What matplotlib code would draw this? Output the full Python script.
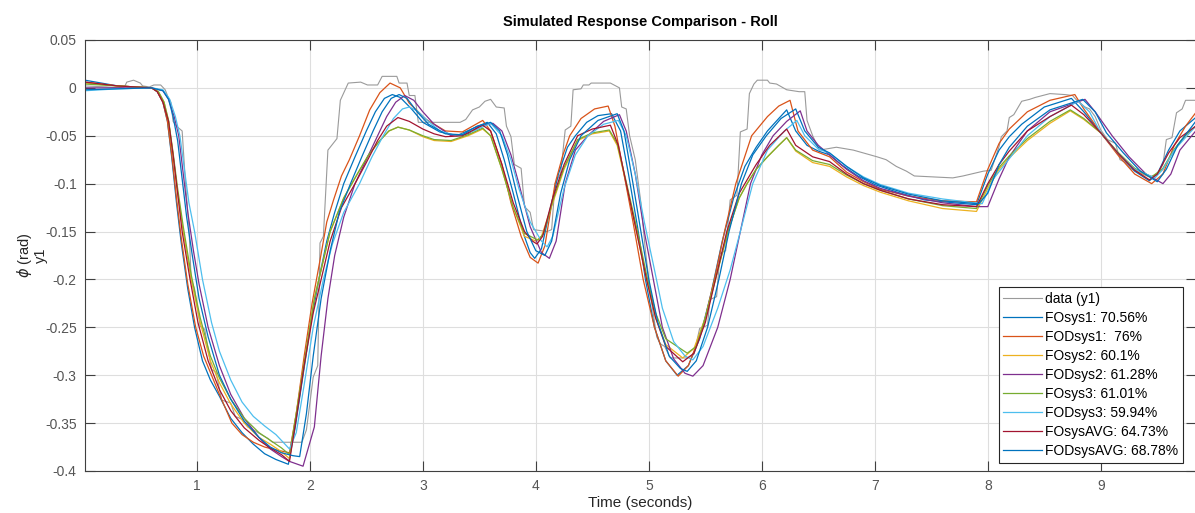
import matplotlib
matplotlib.use("Agg")
import matplotlib.pyplot as plt

# ---------------- data ----------------
data_t = [0.01, 0.2, 0.3, 0.36, 0.38, 0.44, 0.5, 0.52, 0.58, 0.62, 0.68, 0.72, 0.74, 0.77, 0.79, 0.82, 0.87,
          0.9, 0.93, 0.95, 0.98, 1.03, 1.07, 1.13, 1.17, 1.22, 1.3, 1.34, 1.4, 1.45, 1.5, 1.57, 1.63, 1.67,
          1.93, 1.97, 2.03, 2.07, 2.09, 2.12, 2.16, 2.2, 2.24, 2.27, 2.34, 2.45, 2.51, 2.6, 2.64, 2.77, 2.79,
          2.86, 2.88, 2.93, 2.96, 3.33, 3.38, 3.44, 3.5, 3.55, 3.6, 3.65, 3.72, 3.74, 3.78, 3.81, 3.87, 3.9,
          3.95, 3.98, 4.1, 4.14, 4.17, 4.22, 4.26, 4.31, 4.33, 4.4, 4.42, 4.47, 4.49, 4.66, 4.74, 4.76, 4.8,
          4.83, 4.88, 4.93, 4.97, 5.02, 5.07, 5.1, 5.14, 5.19, 5.34, 5.4, 5.45, 5.52, 5.54, 5.6, 5.63, 5.68,
          5.72, 5.78, 5.81, 5.87, 5.89, 5.93, 5.96, 6.05, 6.07, 6.13, 6.22, 6.33, 6.38, 6.40, 6.45, 6.51,
          6.56, 6.66, 6.81, 6.93, 7.02, 7.10, 7.19, 7.28, 7.35, 7.52, 7.69, 7.78, 7.96, 8.03, 8.1, 8.12,
          8.17, 8.19, 8.23, 8.30, 8.37, 8.42, 8.55, 8.68, 8.75, 8.78, 8.86, 8.9, 8.95, 9.0, 9.06, 9.13,
          9.17, 9.22, 9.26, 9.35, 9.43, 9.5, 9.55, 9.58, 9.63, 9.67, 9.72, 9.75, 9.85]
data_y = [0.002, 0.001, 0.0, 0.001, 0.006, 0.008, 0.005, 0.002, 0.001, 0.003, 0.003, -0.002, -0.008, -0.015,
          -0.035, -0.040, -0.045, -0.1, -0.145, -0.2, -0.21, -0.249, -0.252, -0.294, -0.297, -0.326, -0.329,
          -0.343, -0.346, -0.354, -0.357, -0.362, -0.366, -0.370, -0.370, -0.357, -0.302, -0.29, -0.162,
          -0.155, -0.065, -0.059, -0.053, -0.013, 0.005, 0.006, 0.003, 0.003, 0.012, 0.012, 0.005, 0.005,
          -0.008, -0.008, -0.036, -0.036, -0.033, -0.023, -0.020, -0.014, -0.012, -0.020, -0.021, -0.040,
          -0.051, -0.080, -0.084, -0.124, -0.130, -0.148, -0.150, -0.148, -0.100, -0.089, -0.044, -0.040,
          -0.002, -0.001, 0.003, 0.003, 0.005, 0.005, 0.000, -0.020, -0.022, -0.050, -0.075, -0.120, -0.170,
          -0.220, -0.260, -0.267, -0.270, -0.282, -0.282, -0.278, -0.251, -0.248, -0.221, -0.218, -0.173,
          -0.170, -0.117, -0.112, -0.046, -0.043, -0.006, 0.004, 0.008, 0.008, 0.005, 0.004, -0.002, -0.004,
          -0.004, -0.034, -0.050, -0.065, -0.064, -0.062, -0.065, -0.069, -0.072, -0.075, -0.082, -0.087,
          -0.092, -0.093, -0.094, -0.092, -0.087, -0.086, -0.061, -0.051, -0.045, -0.031, -0.028, -0.014,
          -0.012, -0.010, -0.006, -0.007, -0.008, -0.012, -0.020, -0.022, -0.030, -0.044, -0.054, -0.058,
          -0.075, -0.078, -0.084, -0.089, -0.093, -0.090, -0.080, -0.054, -0.052, -0.026, -0.022, -0.013,
          -0.013]

fosys1_t = [0.01, 0.3, 0.6, 0.65, 0.70, 0.74, 0.78, 0.82, 0.86, 0.92, 0.98, 1.05, 1.12, 1.2, 1.3, 1.4, 1.5,
            1.6, 1.7, 1.81, 1.87, 1.94, 2.01, 2.08, 2.15, 2.22, 2.3, 2.4, 2.5, 2.58, 2.66, 2.73, 2.8, 2.9,
            3.0, 3.15, 3.3, 3.45, 3.57, 3.65, 3.72, 3.8, 3.89, 3.95, 3.99, 4.05, 4.12, 4.2, 4.28, 4.35, 4.45,
            4.55, 4.67, 4.75, 4.82, 4.9, 4.97, 5.05, 5.15, 5.25, 5.35, 5.45, 5.55, 5.65, 5.75, 5.85, 5.95,
            6.05, 6.15, 6.22, 6.3, 6.4, 6.5, 6.6, 6.7, 6.85, 7.0, 7.2, 7.44, 7.7, 7.9, 8.0, 8.1, 8.19, 8.3,
            8.5, 8.74, 8.85, 9.0, 9.15, 9.3, 9.43, 9.5, 9.6, 9.7, 9.84]
fosys1_y = [0.008, 0.002, 0.000, -0.004, -0.015, -0.035, -0.075, -0.12, -0.16, -0.21, -0.25, -0.285, -0.305,
            -0.322, -0.345, -0.360, -0.372, -0.382, -0.388, -0.393, -0.355, -0.300, -0.245, -0.200, -0.160,
            -0.130, -0.100, -0.072, -0.045, -0.025, -0.011, -0.007, -0.010, -0.022, -0.036, -0.046, -0.050,
            -0.042, -0.036, -0.048, -0.075, -0.110, -0.152, -0.172, -0.178, -0.168, -0.130, -0.090, -0.062,
            -0.050, -0.036, -0.029, -0.027, -0.045, -0.090, -0.145, -0.200, -0.250, -0.285, -0.300, -0.290,
            -0.262, -0.215, -0.160, -0.115, -0.082, -0.062, -0.045, -0.032, -0.023, -0.045, -0.060, -0.066,
            -0.070, -0.080, -0.092, -0.101, -0.109, -0.117, -0.120, -0.122, -0.090, -0.065, -0.051, -0.038,
            -0.020, -0.011, -0.025, -0.047, -0.068, -0.087, -0.097, -0.090, -0.065, -0.045, -0.031]

fodsys1_t = [0.01, 0.3, 0.6, 0.65, 0.70, 0.74, 0.78, 0.82, 0.86, 0.92, 0.99, 1.06, 1.13, 1.2, 1.31, 1.4, 1.5,
             1.6, 1.7, 1.82, 1.88, 1.95, 2.02, 2.09, 2.15, 2.21, 2.28, 2.35, 2.44, 2.53, 2.62, 2.71, 2.8,
             2.88, 3.03, 3.2, 3.35, 3.53, 3.6, 3.7, 3.78, 3.87, 3.95, 4.02, 4.08, 4.17, 4.24, 4.3, 4.4, 4.52,
             4.64, 4.7, 4.78, 4.86, 4.95, 5.05, 5.15, 5.26, 5.35, 5.48, 5.58, 5.67, 5.77, 5.91, 6.05, 6.15,
             6.25, 6.32, 6.45, 6.6, 6.75, 6.9, 7.05, 7.3, 7.6, 7.9, 8.0, 8.1, 8.19, 8.35, 8.55, 8.77, 8.85,
             9.0, 9.15, 9.3, 9.45, 9.55, 9.65, 9.75, 9.84]
fodsys1_y = [0.006, 0.002, 0.000, -0.004, -0.015, -0.035, -0.072, -0.115, -0.155, -0.205, -0.250, -0.280,
             -0.300, -0.320, -0.350, -0.362, -0.370, -0.375, -0.378, -0.381, -0.340, -0.280, -0.225, -0.180,
             -0.140, -0.117, -0.092, -0.075, -0.050, -0.023, -0.005, 0.005, 0.000, -0.016, -0.033, -0.045,
             -0.046, -0.034, -0.045, -0.080, -0.120, -0.155, -0.177, -0.183, -0.165, -0.100, -0.070, -0.050,
             -0.032, -0.022, -0.019, -0.040, -0.090, -0.140, -0.200, -0.250, -0.285, -0.301, -0.290, -0.250,
             -0.200, -0.150, -0.100, -0.050, -0.030, -0.019, -0.013, -0.045, -0.065, -0.072, -0.088, -0.098,
             -0.106, -0.113, -0.118, -0.119, -0.085, -0.058, -0.043, -0.025, -0.013, -0.007, -0.022, -0.047,
             -0.070, -0.090, -0.100, -0.090, -0.060, -0.040, -0.026]

fosys2_t = [0.01, 0.3, 0.6, 0.66, 0.71, 0.75, 0.79, 0.83, 0.88, 0.95, 1.03, 1.12, 1.2, 1.3, 1.42, 1.55, 1.65,
            1.75, 1.82, 1.88, 1.96, 2.04, 2.1, 2.18, 2.3, 2.42, 2.52, 2.62, 2.7, 2.78, 2.88, 3.0, 3.1, 3.25,
            3.4, 3.53, 3.6, 3.7, 3.8, 3.9, 4.0, 4.05, 4.15, 4.25, 4.37, 4.5, 4.65, 4.72, 4.8, 4.9, 4.98, 5.06,
            5.15, 5.3, 5.4, 5.5, 5.6, 5.7, 5.8, 5.87, 5.95, 6.05, 6.15, 6.22, 6.3, 6.45, 6.6, 6.75, 6.9,
            7.05, 7.3, 7.6, 7.9, 8.0, 8.1, 8.19, 8.35, 8.55, 8.73, 8.85, 9.0, 9.15, 9.3, 9.45, 9.55, 9.65,
            9.75, 9.84]
fosys2_y = [0.005, 0.002, 0.000, -0.004, -0.015, -0.035, -0.070, -0.110, -0.150, -0.200, -0.245, -0.285,
            -0.308, -0.330, -0.350, -0.365, -0.372, -0.380, -0.387, -0.340, -0.280, -0.220, -0.190, -0.150,
            -0.115, -0.090, -0.070, -0.055, -0.045, -0.041, -0.044, -0.051, -0.055, -0.056, -0.050, -0.043,
            -0.050, -0.085, -0.125, -0.155, -0.160, -0.155, -0.120, -0.085, -0.055, -0.048, -0.045, -0.060,
            -0.100, -0.155, -0.200, -0.240, -0.268, -0.282, -0.272, -0.240, -0.195, -0.150, -0.115, -0.100,
            -0.085, -0.072, -0.060, -0.052, -0.066, -0.078, -0.082, -0.093, -0.102, -0.109, -0.118, -0.126,
            -0.129, -0.105, -0.085, -0.073, -0.055, -0.037, -0.024, -0.033, -0.047, -0.068, -0.085, -0.094,
            -0.085, -0.065, -0.050, -0.040]

fodsys2_t = [0.01, 0.3, 0.6, 0.7, 0.75, 0.8, 0.84, 0.88, 0.92, 0.97, 1.02, 1.1, 1.2, 1.3, 1.42, 1.55, 1.65,
             1.75, 1.82, 1.94, 2.04, 2.1, 2.16, 2.22, 2.3, 2.4, 2.5, 2.6, 2.68, 2.76, 2.84, 2.92, 3.0, 3.1,
             3.25, 3.4, 3.5, 3.62, 3.7, 3.78, 3.85, 3.95, 4.05, 4.12, 4.18, 4.26, 4.35, 4.46, 4.6, 4.74, 4.8,
             4.88, 4.96, 5.04, 5.12, 5.22, 5.32, 5.39, 5.48, 5.61, 5.72, 5.81, 5.9, 6.0, 6.1, 6.22, 6.34,
             6.4, 6.5, 6.6, 6.75, 6.9, 7.05, 7.3, 7.6, 7.9, 8.0, 8.1, 8.19, 8.35, 8.55, 8.86, 8.95, 9.1,
             9.25, 9.4, 9.55, 9.62, 9.7, 9.84]
fodsys2_y = [0.000, 0.000, 0.000, -0.003, -0.012, -0.030, -0.050, -0.090, -0.130, -0.170, -0.205, -0.250,
             -0.290, -0.320, -0.345, -0.365, -0.377, -0.385, -0.390, -0.395, -0.354, -0.280, -0.220, -0.175,
             -0.135, -0.100, -0.075, -0.050, -0.030, -0.015, -0.008, -0.013, -0.025, -0.038, -0.050, -0.048,
             -0.040, -0.037, -0.045, -0.070, -0.100, -0.145, -0.172, -0.178, -0.160, -0.100, -0.065, -0.050,
             -0.035, -0.028, -0.045, -0.090, -0.150, -0.200, -0.250, -0.283, -0.298, -0.301, -0.290, -0.250,
             -0.200, -0.150, -0.100, -0.070, -0.050, -0.035, -0.024, -0.045, -0.060, -0.070, -0.085, -0.097,
             -0.105, -0.113, -0.120, -0.124, -0.124, -0.095, -0.072, -0.045, -0.025, -0.012, -0.025, -0.050,
             -0.072, -0.090, -0.100, -0.090, -0.065, -0.045]

fosys3_t = [0.01, 0.3, 0.6, 0.66, 0.71, 0.75, 0.79, 0.83, 0.88, 0.95, 1.03, 1.12, 1.2, 1.3, 1.42, 1.55, 1.65,
            1.75, 1.82, 1.88, 1.96, 2.04, 2.1, 2.18, 2.3, 2.42, 2.52, 2.62, 2.7, 2.78, 2.88, 3.0, 3.1, 3.25,
            3.4, 3.53, 3.6, 3.7, 3.8, 3.9, 4.02, 4.07, 4.15, 4.25, 4.37, 4.5, 4.65, 4.72, 4.8, 4.9, 4.98,
            5.06, 5.15, 5.34, 5.42, 5.5, 5.6, 5.7, 5.8, 5.87, 5.95, 6.05, 6.15, 6.22, 6.3, 6.45, 6.6, 6.75,
            6.9, 7.05, 7.3, 7.6, 7.9, 8.0, 8.1, 8.19, 8.35, 8.55, 8.73, 8.85, 9.0, 9.15, 9.3, 9.45, 9.55,
            9.65, 9.75, 9.84]
fosys3_y = [0.004, 0.002, 0.000, -0.004, -0.015, -0.034, -0.068, -0.105, -0.145, -0.195, -0.240, -0.280,
            -0.303, -0.325, -0.345, -0.360, -0.368, -0.376, -0.383, -0.340, -0.280, -0.220, -0.190, -0.150,
            -0.115, -0.090, -0.070, -0.055, -0.045, -0.041, -0.044, -0.050, -0.054, -0.055, -0.049, -0.042,
            -0.050, -0.085, -0.125, -0.152, -0.159, -0.152, -0.118, -0.083, -0.054, -0.047, -0.044, -0.058,
            -0.098, -0.150, -0.195, -0.235, -0.262, -0.277, -0.270, -0.240, -0.195, -0.150, -0.115, -0.100,
            -0.085, -0.072, -0.060, -0.052, -0.065, -0.076, -0.080, -0.091, -0.100, -0.107, -0.116, -0.123,
            -0.126, -0.102, -0.083, -0.071, -0.053, -0.035, -0.023, -0.032, -0.047, -0.067, -0.084, -0.093,
            -0.084, -0.064, -0.049, -0.040]

fodsys3_t = [0.01, 0.3, 0.6, 0.7, 0.76, 0.81, 0.85, 0.89, 0.93, 0.98, 1.05, 1.13, 1.2, 1.3, 1.4, 1.5, 1.6,
             1.7, 1.82, 1.88, 1.95, 2.03, 2.12, 2.2, 2.3, 2.44, 2.55, 2.65, 2.74, 2.82, 2.88, 2.95, 3.05, 3.15,
             3.3, 3.45, 3.6, 3.7, 3.78, 3.85, 3.95, 4.05, 4.1, 4.15, 4.25, 4.35, 4.46, 4.6, 4.73, 4.8, 4.88,
             4.96, 5.05, 5.12, 5.22, 5.32, 5.39, 5.48, 5.61, 5.72, 5.81, 5.92, 6.05, 6.2, 6.31, 6.38, 6.5,
             6.6, 6.75, 6.9, 7.05, 7.3, 7.6, 7.95, 8.05, 8.19, 8.35, 8.55, 8.8, 8.9, 9.0, 9.15, 9.3, 9.48,
             9.55, 9.65, 9.84]
fodsys3_y = [-0.003, -0.001, 0.000, -0.002, -0.012, -0.030, -0.050, -0.085, -0.120, -0.150, -0.200, -0.245,
             -0.275, -0.305, -0.328, -0.343, -0.353, -0.362, -0.377, -0.360, -0.310, -0.250, -0.200, -0.163,
             -0.130, -0.100, -0.072, -0.050, -0.032, -0.022, -0.020, -0.024, -0.035, -0.045, -0.050, -0.045,
             -0.037, -0.050, -0.075, -0.105, -0.140, -0.160, -0.166, -0.155, -0.105, -0.070, -0.050, -0.038,
             -0.034, -0.050, -0.090, -0.140, -0.190, -0.230, -0.265, -0.280, -0.284, -0.270, -0.230, -0.190,
             -0.150, -0.100, -0.065, -0.045, -0.034, -0.050, -0.064, -0.068, -0.082, -0.093, -0.101, -0.110,
             -0.116, -0.121, -0.095, -0.074, -0.050, -0.030, -0.014, -0.025, -0.047, -0.068, -0.085, -0.094,
             -0.085, -0.065, -0.040]

fosysavg_t = [0.01, 0.3, 0.6, 0.65, 0.70, 0.75, 0.79, 0.83, 0.87, 0.94, 1.01, 1.1, 1.2, 1.3, 1.42, 1.55,
              1.65, 1.75, 1.82, 1.88, 1.95, 2.03, 2.1, 2.18, 2.28, 2.4, 2.5, 2.6, 2.68, 2.78, 2.88, 3.0, 3.1,
              3.2, 3.35, 3.53, 3.6, 3.7, 3.8, 3.9, 3.97, 4.01, 4.06, 4.15, 4.25, 4.37, 4.5, 4.66, 4.73, 4.8,
              4.9, 4.98, 5.06, 5.15, 5.3, 5.4, 5.5, 5.6, 5.69, 5.8, 5.85, 5.95, 6.07, 6.22, 6.3, 6.45, 6.6,
              6.75, 6.9, 7.05, 7.3, 7.6, 7.9, 8.0, 8.1, 8.19, 8.35, 8.55, 8.74, 8.85, 9.0, 9.15, 9.3, 9.43,
              9.5, 9.6, 9.7, 9.84]
fosysavg_y = [0.006, 0.002, 0.000, -0.004, -0.015, -0.035, -0.070, -0.110, -0.150, -0.200, -0.245, -0.285,
              -0.315, -0.337, -0.355, -0.368, -0.376, -0.383, -0.390, -0.345, -0.290, -0.235, -0.200, -0.160,
              -0.125, -0.100, -0.078, -0.055, -0.040, -0.031, -0.035, -0.043, -0.048, -0.051, -0.050, -0.039,
              -0.045, -0.080, -0.120, -0.150, -0.160, -0.163, -0.155, -0.115, -0.080, -0.050, -0.043, -0.039,
              -0.060, -0.100, -0.155, -0.200, -0.240, -0.270, -0.286, -0.277, -0.245, -0.195, -0.150, -0.110,
              -0.100, -0.080, -0.060, -0.043, -0.060, -0.072, -0.077, -0.090, -0.100, -0.107, -0.116, -0.122,
              -0.124, -0.100, -0.080, -0.066, -0.045, -0.030, -0.018, -0.028, -0.047, -0.068, -0.086, -0.096,
              -0.090, -0.068, -0.052, -0.040]

fodsysavg_t = [0.01, 0.3, 0.6, 0.7, 0.75, 0.79, 0.83, 0.87, 0.91, 0.96, 1.02, 1.1, 1.2, 1.3, 1.42, 1.55,
               1.65, 1.75, 1.85, 1.91, 1.97, 2.03, 2.1, 2.18, 2.26, 2.36, 2.46, 2.56, 2.64, 2.72, 2.79, 2.86,
               2.95, 3.05, 3.2, 3.35, 3.48, 3.6, 3.68, 3.75, 3.83, 3.92, 4.0, 4.08, 4.14, 4.22, 4.3, 4.4, 4.55,
               4.72, 4.78, 4.86, 4.93, 5.0, 5.08, 5.18, 5.28, 5.34, 5.42, 5.52, 5.62, 5.71, 5.82, 5.92, 6.04,
               6.17, 6.3, 6.38, 6.5, 6.6, 6.75, 6.9, 7.05, 7.3, 7.6, 7.92, 8.0, 8.1, 8.19, 8.35, 8.55, 8.84,
               8.95, 9.05, 9.2, 9.35, 9.5, 9.58, 9.68, 9.84]
fodsysavg_y = [-0.002, -0.001, 0.000, -0.003, -0.012, -0.030, -0.055, -0.095, -0.135, -0.175, -0.220,
               -0.260, -0.300, -0.325, -0.348, -0.365, -0.375, -0.381, -0.384, -0.385, -0.340, -0.280, -0.220,
               -0.170, -0.130, -0.100, -0.072, -0.045, -0.025, -0.011, -0.007, -0.011, -0.025, -0.038, -0.048,
               -0.049, -0.040, -0.036, -0.045, -0.070, -0.110, -0.150, -0.170, -0.175, -0.160, -0.110, -0.075,
               -0.050, -0.034, -0.027, -0.045, -0.100, -0.150, -0.200, -0.245, -0.280, -0.293, -0.296, -0.285,
               -0.250, -0.200, -0.150, -0.100, -0.070, -0.050, -0.032, -0.022, -0.045, -0.062, -0.068, -0.082,
               -0.094, -0.102, -0.111, -0.118, -0.121, -0.110, -0.080, -0.062, -0.040, -0.023, -0.012, -0.025,
               -0.047, -0.068, -0.087, -0.098, -0.085, -0.060, -0.035]

labels = ["data (y1)", "FOsys1: 70.56%", "FODsys1:  76%", "FOsys2: 60.1%", "FODsys2: 61.28%",
          "FOsys3: 61.01%", "FODsys3: 59.94%", "FOsysAVG: 64.73%", "FODsysAVG: 68.78%"]
colors = ["#9a9a9a", "#0072BD", "#D95319", "#EDB120", "#7E2F8E", "#77AC30", "#4DBEEE", "#A2142F", "#0072BD"]

x_ticks = [1, 2, 3, 4, 5, 6, 7, 8, 9]
y_ticks = [-0.4, -0.35, -0.3, -0.25, -0.2, -0.15, -0.1, -0.05, 0, 0.05]
y_ticklabels = ["-0.4", "-0.35", "-0.3", "-0.25", "-0.2", "-0.15", "-0.1", "-0.05", "0", "0.05"]

# ---------------- figure ----------------
plt.rcParams['font.family'] = ['Liberation Sans', 'DejaVu Sans']
fig = plt.figure(figsize=(11.95, 5.13), dpi=100)
ax = fig.add_axes([0.0711, 0.0819, 0.9295, 0.8402])

series = [(data_t, data_y), (fosys1_t, fosys1_y), (fodsys1_t, fodsys1_y), (fosys2_t, fosys2_y),
          (fodsys2_t, fodsys2_y), (fosys3_t, fosys3_y), (fodsys3_t, fodsys3_y),
          (fosysavg_t, fosysavg_y), (fodsysavg_t, fodsysavg_y)]
for (t, y), lab, col in zip(series, labels, colors):
    ax.plot(t, y, color=col, lw=0.9 if lab != "data (y1)" else 0.8, label=lab)

ax.set_xlim(0.01, 9.84)
ax.set_ylim(-0.4, 0.05)
ax.set_xticks(x_ticks)
ax.set_xticklabels([str(v) for v in x_ticks])
ax.set_yticks(y_ticks)
ax.set_yticklabels(y_ticklabels)
ax.grid(True, color="#dedede", lw=0.8)
ax.set_axisbelow(True)
ax.tick_params(direction='in', top=True, right=True, length=7.5, width=0.8,
               labelsize=10, colors='#404040', labelcolor='#555555', pad=6)
for s in ax.spines.values():
    s.set_color('#404040')
    s.set_linewidth(0.8)

ax.set_title("Simulated Response Comparison - Roll", fontsize=10.5, fontweight='bold', pad=10)
ax.set_xlabel("Time (seconds)", fontsize=11, color='#262626', labelpad=2)
ax.set_ylabel(r"$\phi$ (rad)" + "\ny1", fontsize=10.5, color='#262626', labelpad=-2, linespacing=1.0)

leg = ax.legend(loc='lower right', bbox_to_anchor=(0.990, 0.0975), bbox_transform=fig.transFigure,
                fontsize=10, frameon=True, fancybox=False, framealpha=1, edgecolor='#262626',
                handlelength=2.8, handletextpad=0.2, labelspacing=0.36, borderpad=0.35, borderaxespad=0)
leg.get_frame().set_linewidth(0.8)

fig.savefig("out.png", dpi=100)
